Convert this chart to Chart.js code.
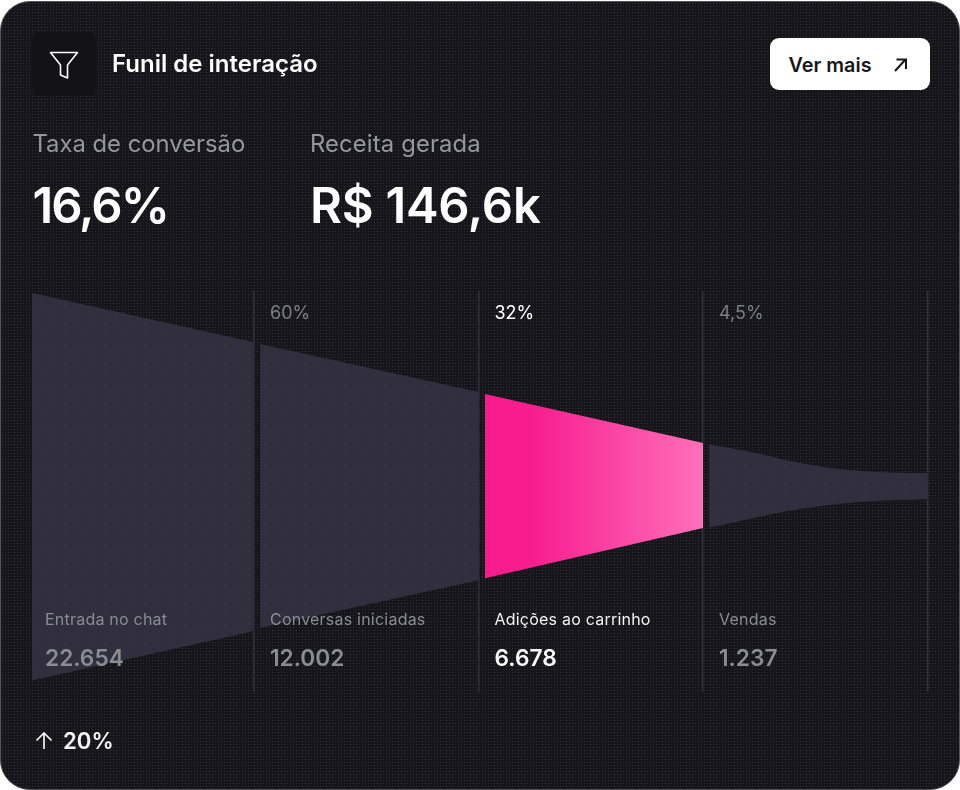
<!DOCTYPE html>
<html lang="pt-BR">
<head>
<meta charset="utf-8">
<title>Funil de interação</title>
<script src="https://cdn.jsdelivr.net/npm/chart.js@4"></script>
<style>
html,body{margin:0;padding:0;width:960px;height:790px;background:#fff;overflow:hidden;font-family:Inter,sans-serif}
.card{position:absolute;left:0;top:1px;width:958px;height:787px;border-radius:30px;border:1px solid #55555c;background-color:#18181c;overflow:hidden}
canvas{position:absolute;left:0;top:0}
.t{position:absolute;white-space:nowrap;line-height:1}
.iconbox{position:absolute;left:32px;top:32px;width:64px;height:64px;border-radius:8px;background:#131316}
.title{left:112px;top:52px;font-size:24px;font-weight:600;color:#fff}
.btn{position:absolute;left:770px;top:38px;width:160px;height:52px;border-radius:9px;background:#fff}
.btnt{left:788.500px;top:56px;font-size:19.8px;font-weight:600;color:#17171c}
.lab{top:132px;font-size:23.8px;font-weight:400;color:#96969d}
.big{top:181px;font-size:49px;font-weight:600;color:#fff}
.foot{left:63px;top:730px;font-size:22.2px;font-weight:600;color:#f4f4f5}
svg.i{position:absolute}
</style>
</head>
<body>
<div class="card" id="card"></div>
<canvas id="funnel" width="960" height="790" style="width:960px;height:790px"></canvas>
<div class="iconbox"></div>
<svg class="i" style="left:49px;top:49px" width="30" height="32" viewBox="0 0 30 32" fill="none" stroke="#fff" stroke-width="1.6" stroke-linejoin="round"><path d="M1.500 3.500H28.500L18.500 16V29L11.500 26V16Z"/></svg>
<div class="t title">Funil de interação</div>
<div class="btn"></div>
<div class="t btnt">Ver mais</div>
<svg class="i" style="left:890px;top:55px" width="20" height="20" viewBox="0 0 20 20" fill="none" stroke="#17171c" stroke-width="2"><path d="M5 16L15.500 4.500M6.500 4.500h9.500v9.500"/></svg>
<div class="t lab" style="left:32.500px">Taxa de conversão</div>
<div class="t lab" style="left:310px;letter-spacing:.14px">Receita gerada</div>
<div class="t big" style="left:32.500px;letter-spacing:-2px">16,6%</div>
<div class="t big" style="left:310px;letter-spacing:-.25px">R$ 146,6k</div>
<svg class="i" style="left:35px;top:732px" width="18" height="18" viewBox="0 0 18 18" fill="none" stroke="#f4f4f5" stroke-width="1.7"><path d="M9 17V1.500M1.500 8.500L9 1l7.500 7.500"/></svg>
<div class="t foot">20%</div>
<script>
const categories = ["Entrada no chat", "Conversas iniciadas", "Adições ao carrinho", "Vendas"];
const counts = ["22.654", "12.002", "6.678", "1.237"];
const stepRates = ["", "60%", "32%", "4,5%"];
const activeStage = 2;

// Band edges, in percent of the first stage's half height, around the funnel axis.
const stage1X = [0.011, 0.995];
const stage1Top = [100, 74.7];
const stage1Bottom = [-100, -74.7];
const stage2X = [1.027, 2];
const stage2Top = [73.6, 48.8];
const stage2Bottom = [-73, -48.3];
const stage3X = [2.029, 3];
const stage3Top = [47.8, 22.5];
const stage3Bottom = [-47.3, -21.4];
const stage4X = [3.027, 3.24, 3.385, 3.53, 3.685, 3.83, 4];
const stage4Top = [21.7, 17.3, 13.4, 10.3, 8.3, 7.3, 7];
const stage4Bottom = [-21.2, -15.8, -12.5, -9.8, -8, -7, -6.5];

const stages = [
  {x: stage1X, top: stage1Top, bottom: stage1Bottom},
  {x: stage2X, top: stage2Top, bottom: stage2Bottom},
  {x: stage3X, top: stage3Top, bottom: stage3Bottom},
  {x: stage4X, top: stage4Top, bottom: stage4Bottom}
];

// Decorative dither of the card background: a fixed 12x12 tile of dots.
const ditherShades = ["#2f2e3a", "#3a3947", "#262530", "#33323f", "#3e3d4c", "#2a2934", "#363543", "#24232c",
                      "#393846", "#2c2b36", "#31303d", "#282732", "#3c3b49", "#2e2d39", "#353441", "#272631"];
(function () {
  const c = document.createElement("canvas");
  c.width = c.height = 12;
  const g = c.getContext("2d");
  g.fillStyle = "#16161a"; g.fillRect(0, 0, 12, 12);
  for (let r = 0; r < 4; r++) for (let k = 0; k < 4; k++) {
    g.fillStyle = ditherShades[r * 4 + k];
    g.fillRect(k * 3 + 1, r * 3 + 1, 1, 1);
  }
  document.getElementById("card").style.backgroundImage = "url(" + c.toDataURL() + ")";
})();

const BAND = "#312f3e";
function dotted() {
  const c = document.createElement("canvas");
  c.width = c.height = 10;
  const g = c.getContext("2d");
  g.fillStyle = BAND; g.fillRect(0, 0, 10, 10);
  g.fillStyle = "#3c3b4a"; g.fillRect(4, 4, 1, 1);
  return g.createPattern(c, "repeat");
}
const bandPattern = dotted();
function pink(ctx) {
  const a = ctx.chart.chartArea;
  if (!a) return "#f81c8f";
  const xs = ctx.chart.scales.x;
  const g = ctx.chart.ctx.createLinearGradient(xs.getPixelForValue(stage3X[0]), 0, xs.getPixelForValue(stage3X[1]), 0);
  g.addColorStop(0, "#f81c8f");
  g.addColorStop(0.22, "#f81d8f");
  g.addColorStop(0.6, "#fb45a3");
  g.addColorStop(1, "#ff70b9");
  return g;
}

const datasets = [];
stages.forEach((s, i) => {
  const fillColor = i === activeStage ? pink : bandPattern;
  const curved = s.x.length > 2;
  datasets.push({label: categories[i], data: s.x.map((x, k) => ({x, y: s.top[k]})), borderWidth: 0, pointRadius: 0,
    cubicInterpolationMode: curved ? "monotone" : "default",
    backgroundColor: fillColor, fill: "+1"});
  datasets.push({label: categories[i] + " (base)", data: s.x.map((x, k) => ({x, y: s.bottom[k]})), borderWidth: 0, pointRadius: 0,
    cubicInterpolationMode: curved ? "monotone" : "default",
    backgroundColor: "transparent", fill: false});
});

const stageLabels = {
  id: "stageLabels",
  afterDatasetsDraw(chart) {
    const {ctx, scales: {x}} = chart;
    ctx.save();
    ctx.textBaseline = "alphabetic";
    categories.forEach((name, i) => {
      const on = i === activeStage;
      const left = x.getPixelForValue(i) + (i === 0 ? 15.5 : 16);
      ctx.textAlign = "left";
      ctx.fillStyle = on ? "#f2f2f3" : "#8b8b93";
      ctx.font = "400 16px Inter";
      ctx.letterSpacing = "0.22px";
      ctx.fillText(name, left, 625);
      ctx.fillStyle = on ? "#ffffff" : "#8b8b93";
      ctx.font = "600 22.7px Inter";
      ctx.letterSpacing = "0px";
      ctx.fillText(counts[i], left, 666);
      if (stepRates[i]) {
        ctx.fillStyle = on ? "#ffffff" : "#7d7d85";
        ctx.font = "400 18px Inter";
        ctx.fillText(stepRates[i], left, 319);
      }
    });
    ctx.restore();
  }
};

new Chart(document.getElementById("funnel"), {
  type: "line",
  data: {datasets},
  plugins: [stageLabels],
  options: {
    responsive: false,
    animation: false,
    devicePixelRatio: 1,
    layout: {padding: {left: 29.5, right: 32.5, top: 291, bottom: 98}},
    plugins: {legend: {display: false}, tooltip: {enabled: false}, title: {display: false}},
    scales: {
      x: {type: "linear", min: 0, max: 4, display: true,
        ticks: {display: false, stepSize: 1},
        border: {display: false},
        grid: {drawTicks: false, lineWidth: 1.5, color: c => c.tick && c.tick.value === 0 ? "transparent" : "#2f2f37"}},
      y: {type: "linear", min: -106, max: 101, display: false}
    }
  }
});
</script>
</body>
</html>
